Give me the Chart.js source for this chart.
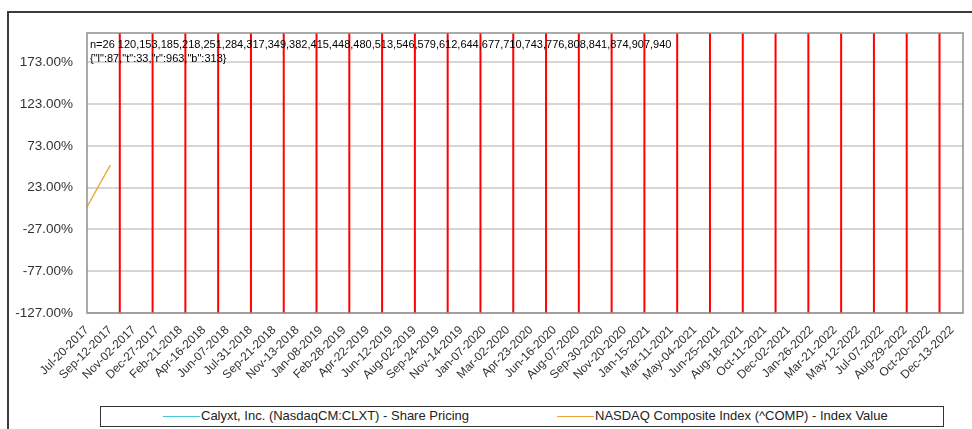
<!DOCTYPE html>
<html>
<head>
<meta charset="utf-8">
<script src="https://cdn.jsdelivr.net/npm/chart.js@4.4.1/dist/chart.umd.min.js"></script>
<style>
  html, body { margin: 0; padding: 0; background: #fff; }
  #wrap { position: relative; width: 972px; height: 429px; overflow: hidden; font-family: "Liberation Sans", Arial, sans-serif; }
  #frame { position: absolute; left: 7px; top: 11px; width: 990px; height: 440px; border-top: 2px solid #3c3c3c; border-left: 2px solid #3c3c3c; }
  canvas { position: absolute; left: 0; top: 0; }
  #legend { position: absolute; left: 100px; top: 406px; width: 842px; height: 19px; border: 1px solid #333; font-size: 13px; color: #222; background: #fff; }
  .item { position: absolute; top: 1px; white-space: nowrap; line-height: 16px; }
  .swatch { display: inline-block; width: 37px; height: 0; border-top: 1.5px solid; vertical-align: middle; margin-right: 1px; }
</style>
</head>
<body>
<div id="wrap">
  <div id="frame"></div>
  <canvas id="chart" width="972" height="429"></canvas>
  <div id="legend">
    <div class="item" style="left:62px"><span class="swatch" style="border-color:#45c4df"></span>Calyxt, Inc. (NasdaqCM:CLXT) - Share Pricing</div>
    <div class="item" style="left:456px"><span class="swatch" style="border-color:#e6a536"></span>NASDAQ Composite Index (^COMP) - Index Value</div>
  </div>
</div>
<script>
const xLabels = [
  'Jul-20-2017', 'Sep-12-2017', 'Nov-02-2017', 'Dec-27-2017', 'Feb-21-2018', 'Apr-16-2018',
  'Jun-07-2018', 'Jul-31-2018', 'Sep-21-2018', 'Nov-13-2018', 'Jan-08-2019', 'Feb-28-2019',
  'Apr-22-2019', 'Jun-12-2019', 'Aug-02-2019', 'Sep-24-2019', 'Nov-14-2019', 'Jan-07-2020',
  'Mar-02-2020', 'Apr-23-2020', 'Jun-16-2020', 'Aug-07-2020', 'Sep-30-2020', 'Nov-20-2020',
  'Jan-15-2021', 'Mar-11-2021', 'May-04-2021', 'Jun-25-2021', 'Aug-18-2021', 'Oct-11-2021',
  'Dec-02-2021', 'Jan-26-2022', 'Mar-21-2022', 'May-12-2022', 'Jul-07-2022', 'Aug-29-2022',
  'Oct-20-2022', 'Dec-13-2022'
];
const yTicks = [-127, -77, -27, 23, 73, 123, 173];
const sampleStep = 0.2;
const nasdaq = [0, 10, 20, 30, 40, 50];
const X_MAX = 37.47;
const GRID_STEP = 1.4025;

const plotFrame = {
  id: 'plotFrame',
  afterDraw(chart) {
    const { ctx, chartArea: a, scales } = chart;
    const info = [];
    ctx.save();
    ctx.strokeStyle = 'red';
    ctx.lineWidth = 2;
    for (let k = 1; k * GRID_STEP < X_MAX; k++) {
      const px = scales.x.getPixelForValue(k * GRID_STEP);
      info.push(Math.round(px));
      ctx.beginPath();
      ctx.moveTo(px, a.top);
      ctx.lineTo(px, a.bottom);
      ctx.stroke();
    }
    ctx.restore();
    ctx.save();
    ctx.fillStyle = 'black';
    ctx.font = '11px sans-serif';
    ctx.fillText('n=' + info.length + ' ' + info.join(','), 90, 48);
    ctx.fillText(JSON.stringify({l: a.left, t: a.top, r: a.right, b: a.bottom}), 90, 62);
    ctx.restore();
    ctx.save();
    ctx.strokeStyle = '#8e8e8e';
    ctx.lineWidth = 1.5;
    ctx.strokeRect(a.left, a.top, a.right - a.left, a.bottom - a.top);
    ctx.restore();
  }
};

new Chart(document.getElementById('chart').getContext('2d'), {
  type: 'line',
  data: { datasets: [{ data: nasdaq.map((v, i) => ({ x: i * sampleStep, y: v })), borderColor: '#e6a536', borderWidth: 1.3, pointRadius: 0, fill: false }] },
  options: {
    responsive: false,
    animation: false,
    layout: { padding: { left: 0, right: 9, top: 33, bottom: 36 } },
    plugins: { legend: { display: false }, tooltip: { enabled: false } },
    scales: {
      x: {
        type: 'linear', position: 'bottom', min: 0, max: X_MAX,
        afterBuildTicks: s => { s.ticks = xLabels.map((_, i) => ({ value: i })); },
        afterFit: s => { s.height = 80; },
        ticks: { autoSkip: false, minRotation: 45, maxRotation: 45, padding: 2, color: '#333',
          font: { family: '"Liberation Sans", Arial, sans-serif', size: 12 }, callback: v => xLabels[v] },
        grid: { display: false }, border: { display: false }
      },
      y: {
        min: -127, max: 208,
        afterBuildTicks: s => { s.ticks = yTicks.map(v => ({ value: v })); },
        afterFit: s => { s.width = 87; },
        ticks: { padding: 14, color: '#333', font: { family: '"Liberation Sans", Arial, sans-serif', size: 13.5 },
          callback: v => v.toFixed(2) + '%' },
        grid: { color: '#d6d6d6', lineWidth: 2, drawTicks: false }, border: { display: false }
      }
    }
  },
  plugins: [plotFrame]
});
</script>
</body>
</html>
